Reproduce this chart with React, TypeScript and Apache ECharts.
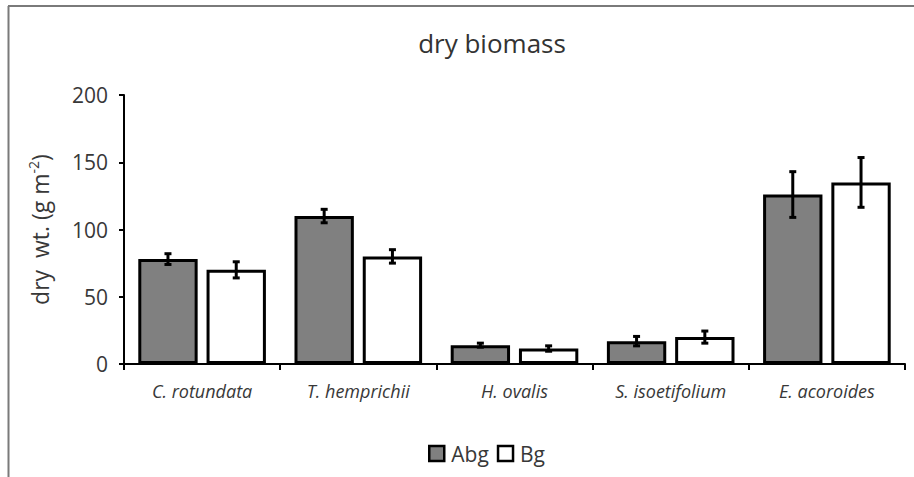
import React, { useEffect, useRef } from "react";
import * as echarts from "echarts";

const categories = ["C. rotundata", "T. hemprichii", "H. ovalis", "S. isoetifolium", "E. acoroides"];
const abgValues = [78, 110, 14, 17, 126];
const abgErrors = [4, 5, 1.5, 3.5, 17];
const bgValues = [70, 80, 11.5, 20, 135];
const bgErrors = [6, 5, 2, 4.5, 18.5];
const yTicks = { min: 0, max: 200, interval: 50 };

const FONT = "'Open Sans', 'Noto Sans', sans-serif";
const TEXT = "#383838";
const BAR_W = 0.38;
const BAR_GAP = 0.15;

function errData(vals: number[], errs: number[]) {
  return vals.map((v, i) => [i, v - errs[i], v + errs[i]]);
}

function errRender(sign: number) {
  return (params: any, api: any) => {
    const idx = api.value(0);
    const lo = api.coord([idx, api.value(1)]);
    const hi = api.coord([idx, api.value(2)]);
    const band = api.size([1, 0])[0];
    const off = sign * band * (BAR_W + BAR_W * BAR_GAP) / 2;
    const x = lo[0] + off;
    const cap = 3.5;
    const style = { stroke: "#000", lineWidth: 3 };
    return {
      type: "group",
      children: [
        { type: "line", shape: { x1: x, y1: lo[1], x2: x, y2: hi[1] }, style },
        { type: "line", shape: { x1: x - cap, y1: lo[1], x2: x + cap, y2: lo[1] }, style },
        { type: "line", shape: { x1: x - cap, y1: hi[1], x2: x + cap, y2: hi[1] }, style },
      ],
    };
  };
}

export default function App() {
  const ref = useRef<HTMLDivElement>(null);
  useEffect(() => {
    const chart = echarts.init(ref.current!, null, { renderer: "svg" });
    chart.setOption({
      animation: false,
      backgroundColor: "#fff",
      title: {
        text: "dry biomass",
        left: 487,
        textAlign: "center",
        top: 25,
        textStyle: { fontFamily: FONT, fontSize: 26, fontWeight: "normal", color: "#333" },
      },
      legend: {
        data: ["Abg", "Bg"],
        left: 423,
        top: 438,
        icon: "rect",
        itemWidth: 15,
        itemHeight: 15,
        itemGap: 8,
        textStyle: { fontFamily: FONT, fontSize: 21, color: TEXT, padding: [0, 0, 0, 2] },
        itemStyle: { borderColor: "#000", borderWidth: 2.5 },
      },
      grid: { left: 124, right: 9, top: 95, bottom: 113, containLabel: false },
      xAxis: {
        type: "category",
        data: categories,
        axisLine: { lineStyle: { color: "#000", width: 2 } },
        axisTick: { show: true, length: 6, lineStyle: { color: "#000", width: 2 } },
        axisLabel: { fontFamily: FONT, fontStyle: "italic", fontSize: 18, color: TEXT, margin: 18 },
      },
      yAxis: {
        type: "value",
        min: yTicks.min,
        max: yTicks.max,
        interval: yTicks.interval,
        splitLine: { show: false },
        axisLine: { show: true, lineStyle: { color: "#000", width: 2 } },
        axisTick: { show: true, length: 5, lineStyle: { color: "#000", width: 2 } },
        axisLabel: { fontFamily: FONT, fontSize: 21, color: TEXT, margin: 16 },
        name: "{a|dry  wt. (g m}{s|-2}{a|)}",
        nameLocation: "middle",
        nameRotate: 90,
        nameGap: 70,
        nameTextStyle: {
          rich: {
            a: { fontFamily: FONT, fontSize: 23, color: TEXT, lineHeight: 28 },
            s: { fontFamily: FONT, fontSize: 14, color: TEXT, verticalAlign: "top", lineHeight: 28, padding: [0, 0, 9, 0] },
          },
        },
      },
      series: [
        {
          name: "Abg",
          type: "bar",
          data: abgValues,
          barWidth: BAR_W * 100 + "%",
          barGap: BAR_GAP * 100 + "%",
          itemStyle: { color: "#808080", borderColor: "#000", borderWidth: 3 },
        },
        {
          name: "Bg",
          type: "bar",
          data: bgValues,
          barWidth: BAR_W * 100 + "%",
          barGap: BAR_GAP * 100 + "%",
          itemStyle: { color: "#ffffff", borderColor: "#000", borderWidth: 3 },
        },
        {
          type: "custom",
          name: "AbgErr",
          renderItem: errRender(-1),
          data: errData(abgValues, abgErrors),
          encode: { x: 0, y: [1, 2] },
          z: 10,
        },
        {
          type: "custom",
          name: "BgErr",
          renderItem: errRender(1),
          data: errData(bgValues, bgErrors),
          encode: { x: 0, y: [1, 2] },
          z: 10,
        },
      ],
      graphic: [
        { type: "line", shape: { x1: 8, y1: 6, x2: 914, y2: 6 }, style: { stroke: "#7a7a7a", lineWidth: 2 } },
        { type: "line", shape: { x1: 8.5, y1: 6, x2: 8.5, y2: 477 }, style: { stroke: "#7a7a7a", lineWidth: 2 } },
      ],
    });
    return () => chart.dispose();
  }, []);
  return <div ref={ref} style={{ position: "absolute", left: 0, top: 0, width: 914, height: 477 }} />;
}
